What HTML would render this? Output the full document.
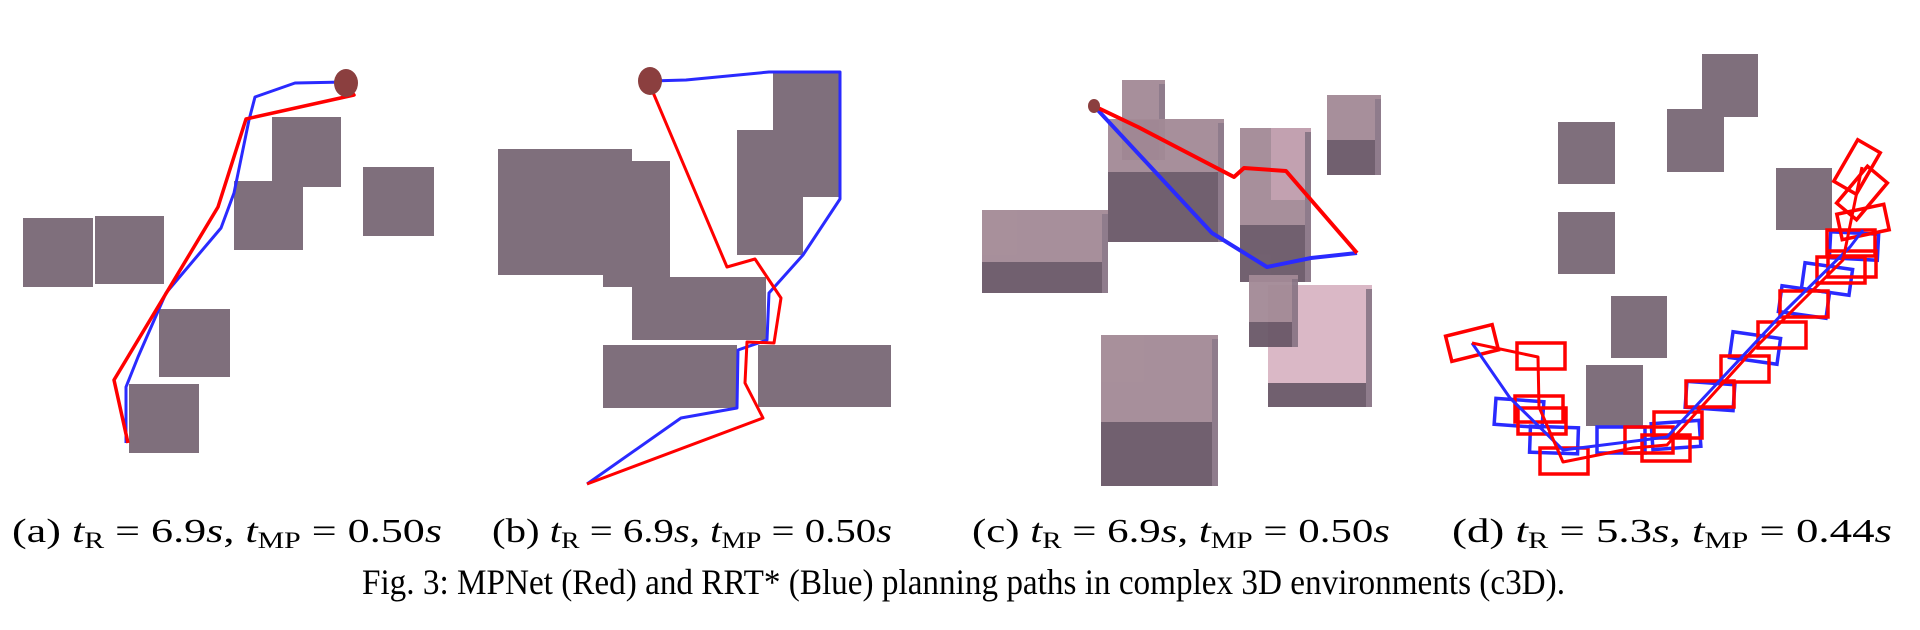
<!DOCTYPE html>
<html><head><meta charset="utf-8"><style>
html,body{margin:0;padding:0;background:#fff;width:1920px;height:630px;overflow:hidden}
svg{display:block}
text{font-family:"Liberation Serif",serif;fill:#000}
</style></head><body>
<svg id="fig" width="1920" height="630" viewBox="0 0 1920 630" xmlns="http://www.w3.org/2000/svg">
<g id="obstacles"></g>
<g id="boxes3d"></g>
<g id="paths"></g>
<g id="captions">
<text x="12" y="542" font-size="34" textLength="430" lengthAdjust="spacingAndGlyphs">(a) <tspan font-style="italic">t</tspan><tspan font-size="23" dy="6">R</tspan><tspan dy="-6"> = 6.9</tspan><tspan font-style="italic">s</tspan>, <tspan font-style="italic">t</tspan><tspan font-size="23" dy="6">MP</tspan><tspan dy="-6"> = 0.50</tspan><tspan font-style="italic">s</tspan></text>
<text x="492" y="542" font-size="34" textLength="400" lengthAdjust="spacingAndGlyphs">(b) <tspan font-style="italic">t</tspan><tspan font-size="23" dy="6">R</tspan><tspan dy="-6"> = 6.9</tspan><tspan font-style="italic">s</tspan>, <tspan font-style="italic">t</tspan><tspan font-size="23" dy="6">MP</tspan><tspan dy="-6"> = 0.50</tspan><tspan font-style="italic">s</tspan></text>
<text x="972" y="542" font-size="34" textLength="418" lengthAdjust="spacingAndGlyphs">(c) <tspan font-style="italic">t</tspan><tspan font-size="23" dy="6">R</tspan><tspan dy="-6"> = 6.9</tspan><tspan font-style="italic">s</tspan>, <tspan font-style="italic">t</tspan><tspan font-size="23" dy="6">MP</tspan><tspan dy="-6"> = 0.50</tspan><tspan font-style="italic">s</tspan></text>
<text x="1452" y="542" font-size="34" textLength="440" lengthAdjust="spacingAndGlyphs">(d) <tspan font-style="italic">t</tspan><tspan font-size="23" dy="6">R</tspan><tspan dy="-6"> = 5.3</tspan><tspan font-style="italic">s</tspan>, <tspan font-style="italic">t</tspan><tspan font-size="23" dy="6">MP</tspan><tspan dy="-6"> = 0.44</tspan><tspan font-style="italic">s</tspan></text>
<text x="362" y="594" font-size="36" textLength="1203" lengthAdjust="spacingAndGlyphs">Fig. 3: MPNet (Red) and RRT* (Blue) planning paths in complex 3D environments (c3D).</text>
</g>
</svg>
<script>
const NS='http://www.w3.org/2000/svg';
// flat obstacles [x0,y0,x1,y1]
const obstaclesA=[[23,218,93,287],[95,216,164,284],[272,117,341,187],[234,181,303,250],[363,167,434,236],[159,309,230,377],[129,384,199,453]];
const obstaclesB=[[498,149,632,275],[603,161,670,287],[632,277,766,340],[603,345,737,408],[758,345,891,407],[773,72,840,197],[737,130,803,255]];
const obstaclesD=[[1558,122,1615,184],[1667,109,1724,172],[1702,54,1758,117],[1776,168,1832,230],[1558,212,1615,274],[1611,296,1667,358],[1586,365,1643,426]];
// 3D boxes [x0,y0,x1,y1,splitY,kind]
const boxesC=[[982,210,1108,293,262,0],[1122,80,1165,160,120,0],[1108,119,1224,242,172,0],[1240,128,1311,282,225,0],[1271,128,1311,200,200,2],[1327,95,1381,175,140,0],[1268,285,1372,407,383,1],[1249,275,1298,347,322,0],[1101,335,1218,486,422,0]];
// paths
const redA=[[346,84],[354,95],[246,119],[218,207],[114,380],[128,443]];
const blueA=[[346,82],[295,83],[255,97],[249,120],[234,193],[221,228],[166,293],[138,357],[126,387],[126,443]];
const redB=[[652,90],[727,267],[755,259],[781,298],[774,343],[747,342],[745,383],[763,418],[587,484]];
const blueB=[[650,81],[686,80],[769,72],[840,72],[840,199],[803,255],[769,293],[767,340],[738,350],[737,408],[681,418],[587,484]];
const redC=[[1094,106],[1138,127],[1234,177],[1244,168],[1286,171],[1357,253]];
const blueC=[[1094,106],[1212,233],[1267,267],[1311,258],[1357,253]];
const redD=[[1472,343],[1538,357],[1539,407],[1563,462],[1633,448],[1667,445],[1753,350],[1843,260],[1862,167]];
const blueD=[[1472,343],[1510,398],[1563,450],[1667,437],[1783,313],[1850,247],[1863,230]];
const startsXY=[[346,83,12,14],[650,81,12,14],[1094,106,6,7]];
// robot rectangles [cx,cy,angle]
const redRects=[[1472,343,-14],[1541,356,0],[1539,409,0],[1542,421,0],[1564,461,0],[1649,440,0],[1666,448,0],[1678,425,0],[1710,394,0],[1745,369,0],[1782,335,0],[1804,304,0],[1841,270,0],[1851,243,0],[1852,264,0],[1863,222,-12],[1862,193,-50],[1857,167,-60]];
const blueRects=[[1519,413,4],[1554,440,2],[1621,440,0],[1676,435,-4],[1710,396,4],[1755,348,8],[1804,302,8],[1827,279,8],[1854,246,3]];

function el(tag,parent,attrs){const e=document.createElementNS(NS,tag);for(const k in attrs)e.setAttribute(k,attrs[k]);parent.appendChild(e);return e;}
const gO=document.getElementById('obstacles');
[obstaclesA,obstaclesB,obstaclesD].forEach(list=>list.forEach(b=>{
  const r=el('rect',gO,{x:b[0],y:b[1],width:b[2]-b[0],height:b[3]-b[1],fill:'#7f6f7c'});
  
  
}));
const g3=document.getElementById('boxes3d');
const lights=['#a38a96','#d9b5c3','#c9a6b6'];
boxesC.forEach(b=>{
  const g=el('g',g3,{opacity:b[5]==2?0.8:0.95});
  
  
  el('rect',g,{x:b[0],y:b[1],width:b[2]-b[0],height:b[4]-b[1],fill:lights[b[5]]});
  el('rect',g,{x:b[0],y:b[4],width:b[2]-b[0],height:b[3]-b[4],fill:'#6a5868'});
  el('rect',g,{x:b[2]-6,y:b[1]+4,width:6,height:b[3]-b[1]-4,fill:'#8a7686'});
});
const gP=document.getElementById('paths');
function poly(pts,color,w,name){
  const p=el('polyline',gP,{points:pts.map(p=>p.join(',')).join(' '),fill:'none',stroke:color,'stroke-width':w,'stroke-linejoin':'round'});
  
  
}
function rect(r,color,name){
  const e=el('rect',gP,{x:-24,y:-13,width:48,height:26,fill:'none',stroke:color,'stroke-width':3.5,transform:`translate(${r[0]},${r[1]}) rotate(${r[2]})`});
  
  
}
blueRects.forEach(r=>rect(r,'#2a2aff','rrt-robot-pose'));
redRects.forEach(r=>rect(r,'#ff0000','mpnet-robot-pose'));
poly(blueA,'#2a2aff',3,'rrt-path-a');poly(redA,'#ff0000',3.5,'mpnet-path-a');
poly(blueB,'#2a2aff',3,'rrt-path-b');poly(redB,'#ff0000',3,'mpnet-path-b');
poly(blueC,'#2a2aff',4,'rrt-path-c');poly(redC,'#ff0000',4,'mpnet-path-c');
poly(blueD,'#2a2aff',3,'rrt-path-d');poly(redD,'#ff0000',3,'mpnet-path-d');
startsXY.forEach(s=>{
  const c=el('ellipse',gP,{cx:s[0],cy:s[1],rx:s[2],ry:s[3],fill:'#8b3f3f'});
  
  
});
</script>
</body></html>
